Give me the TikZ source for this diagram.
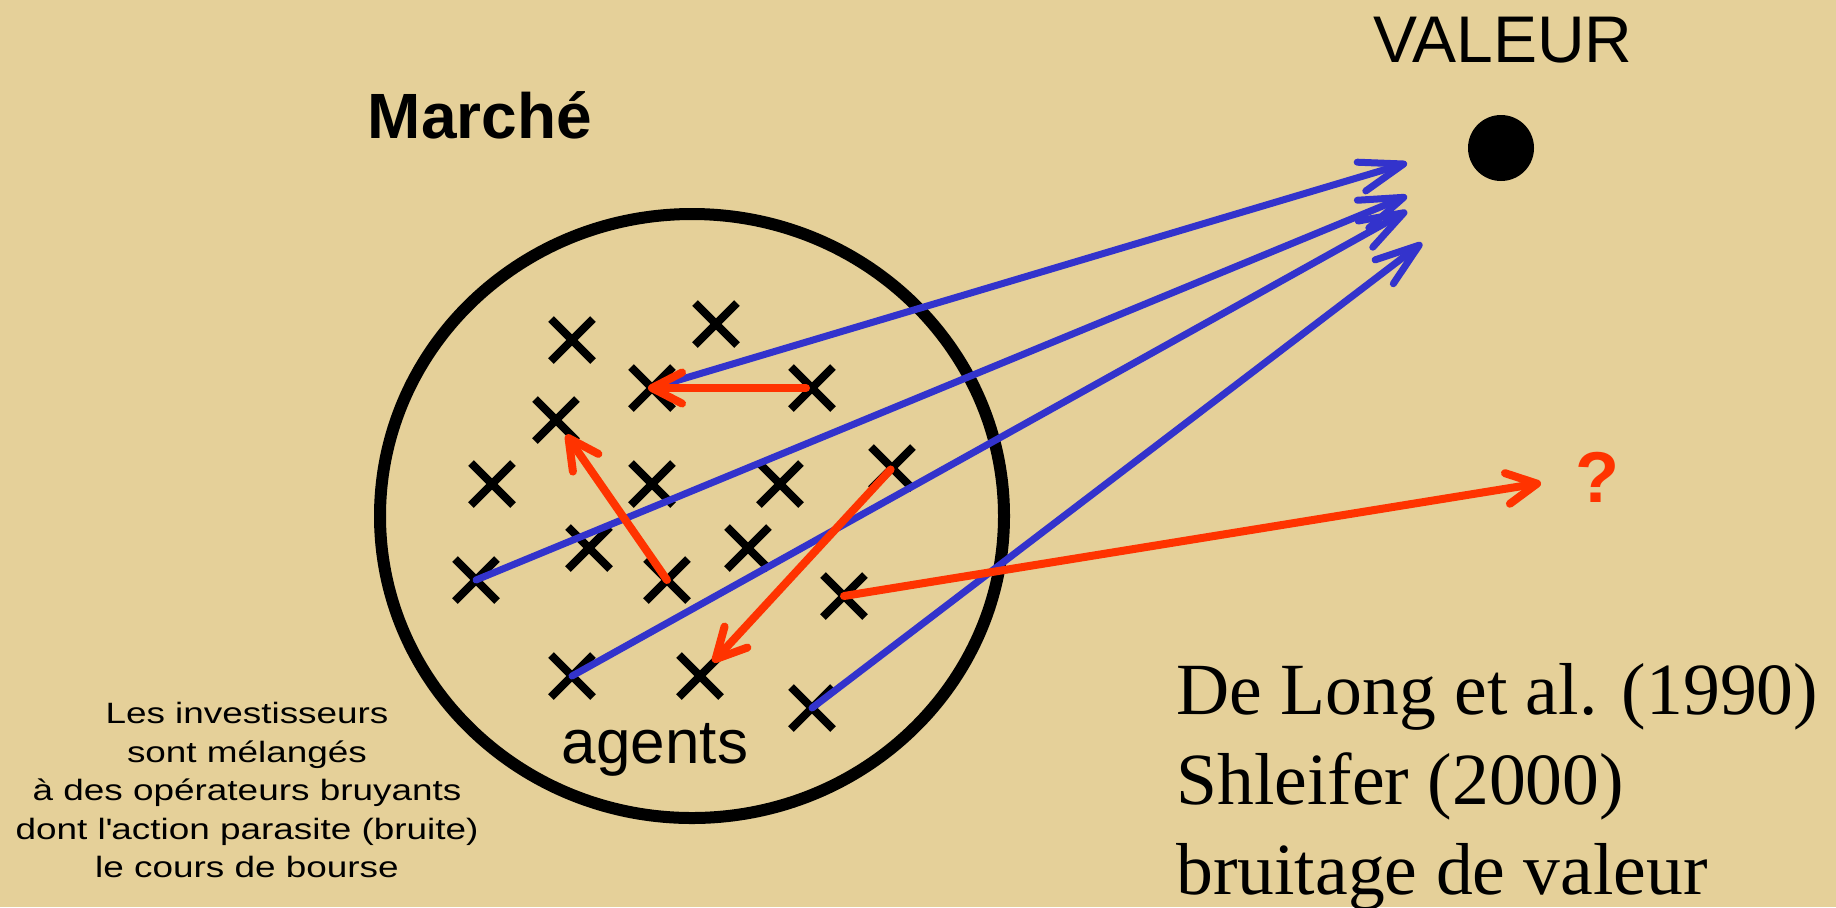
\documentclass[tikz,border=0pt]{standalone}
\usepackage{fontspec}
\setmainfont{Liberation Sans}
\newfontfamily\citefont{Liberation Serif}
\newfontfamily\notefont[FakeStretch=1.255]{Liberation Sans}
\usepackage{xcolor}
\usetikzlibrary{shapes.misc,arrows.meta}
\definecolor{sable}{RGB}{229,208,153}
\definecolor{bleu}{RGB}{51,51,204}
\definecolor{rouge}{RGB}{255,51,0}

\begin{document}
\begin{tikzpicture}[x=0.5pt, y=-0.5pt,
        agent/.style={cross out, draw, line width=4pt, minimum size=17pt, inner sep=0pt},
        vers/.style={draw=bleu, line width=3.5pt, line cap=round, -{Straight Barb[length=22pt, width=15pt, round]}},
        bruit/.style={draw=rouge, line width=4pt, line cap=round, -{Straight Barb[length=15pt, width=15.5pt, round]}}]
            \useasboundingbox[fill=sable] (0,0) rectangle (1836,907);

            % Nodes
            \node[font=\fontsize{33}{40}\selectfont, anchor=base] (valeur) at (1503,62) {VALEUR};
            \node[circle, fill, minimum size=33pt, inner sep=0pt] (point) at (1501,148) {};
            \node[font=\bfseries\fontsize{32}{38}\selectfont, anchor=base] (marche) at (480,138) {Marché};
            \node[font=\fontsize{31}{37}\selectfont, anchor=base] (agents) at (655,763) {agents};
            \node[font=\bfseries\fontsize{36}{40}\selectfont, text=rouge, anchor=base] (quoi) at (1597,502) {?};
            \node[font=\notefont\fontsize{14.7}{19.25}\selectfont, align=center, anchor=north, inner sep=0pt] (note) at (247,702)
                {Les investisseurs\\sont mélangés\\à des opérateurs bruyants\\dont l\textquotesingle action parasite (bruite)\\le cours de bourse};
            \node[font=\citefont\fontsize{36.8}{45}\selectfont, align=left, anchor=north west, inner sep=0pt] (refs) at (1176,663)
                {De Long et al. (1990)\\Shleifer (2000)\\bruitage de valeur};

            \draw[line width=6pt] (692,516) ellipse [x radius=312, y radius=302];

            \node[agent] (a1) at (572,340) {};
            \node[agent] (a2) at (716,324) {};
            \node[agent] (a3) at (652,388) {};
            \node[agent] (a4) at (812,388) {};
            \node[agent] (a5) at (556,420) {};
            \node[agent] (a6) at (492,484) {};
            \node[agent] (a7) at (652,484) {};
            \node[agent] (a8) at (780,484) {};
            \node[agent] (a9) at (892,468) {};
            \node[agent] (a10) at (589,548) {};
            \node[agent] (a11) at (748,548) {};
            \node[agent] (a12) at (476,580) {};
            \node[agent] (a13) at (667,580) {};
            \node[agent] (a14) at (844,596) {};
            \node[agent] (a15) at (572,676) {};
            \node[agent] (a16) at (700,676) {};
            \node[agent] (a17) at (812,708) {};

            \coordinate (v1) at (1407,163);
            \coordinate (v2) at (1407,196);
            \coordinate (v3) at (1407,211);
            \coordinate (v4) at (1422,243);
            \coordinate (q) at (1541,483);

            % Edges
            \draw[vers] (a3.center) -- (v1);
            \draw[vers] (a12.center) -- (v2);
            \draw[vers] (a15.center) -- (v3);
            \draw[vers] (a17.center) -- (v4);

            \draw[bruit, shorten <=3pt, shorten >=-2pt] (a4.center) -- (a3.center);
            \draw[bruit, shorten >=9pt] (a13.center) -- (a5.center);
            \draw[bruit, shorten <=1pt, shorten >=9.5pt] (a9.center) -- (a16.center);
            \draw[bruit] (a14.center) -- (q);
        \end{tikzpicture}
\end{document}
